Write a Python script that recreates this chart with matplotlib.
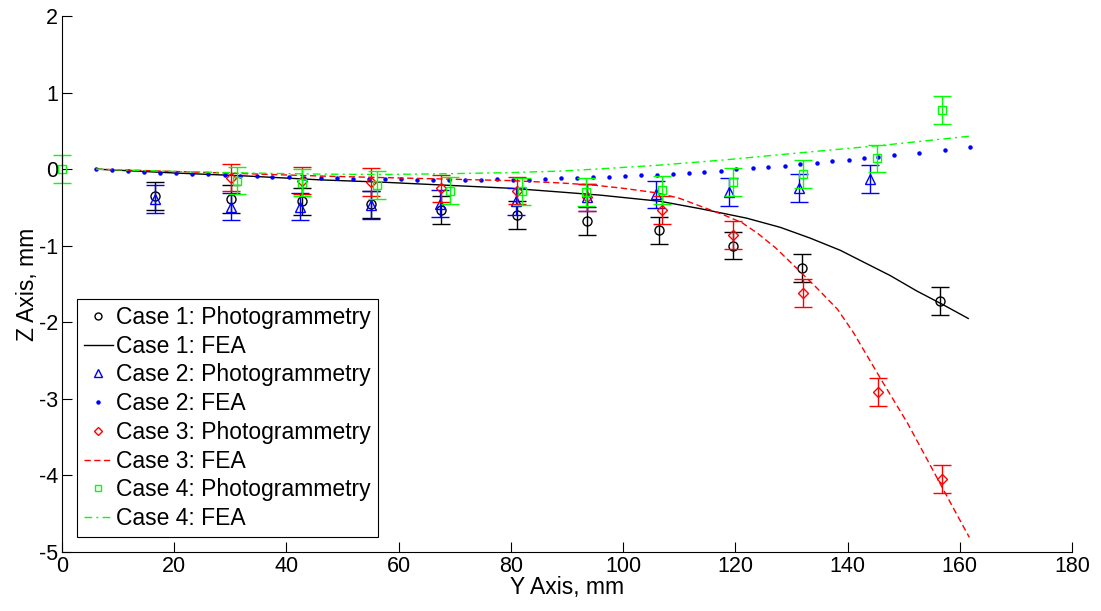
import matplotlib
matplotlib.use("Agg")
import matplotlib.pyplot as plt
from matplotlib.lines import Line2D

plt.rcParams['font.family'] = ['Liberation Sans', 'DejaVu Sans']
plt.rcParams['axes.unicode_minus'] = False

# Photogrammetry measurements (x, z, error)
c1_x = [16.6, 30.2, 42.8, 55.1, 67.5, 81.0, 93.5, 106.4, 119.5, 131.8, 156.4]
c1_z = [-0.35, -0.39, -0.42, -0.46, -0.53, -0.60, -0.68, -0.80, -1.00, -1.29, -1.72]
c1_e = [0.18] * 11

c2_x = [16.6, 30.2, 42.4, 55.0, 67.3, 80.9, 93.5, 105.8, 118.9, 131.4, 144.0]
c2_z = [-0.39, -0.49, -0.49, -0.47, -0.45, -0.42, -0.37, -0.33, -0.30, -0.245, -0.13]
c2_e = [0.18] * 11

c3_x = [30.2, 42.8, 55.1, 67.6, 81.0, 93.5, 106.9, 119.5, 132.0, 145.4, 156.9]
c3_z = [-0.11, -0.15, -0.17, -0.25, -0.28, -0.37, -0.53, -0.86, -1.62, -2.91, -4.05]
c3_e = [0.18] * 11

c4_x = [0.0, 31.2, 42.8, 56.2, 69.1, 81.9, 93.3, 107.0, 119.6, 132.0, 145.2, 156.8]
c4_z = [0.0, -0.15, -0.175, -0.205, -0.28, -0.29, -0.30, -0.27, -0.17, -0.065, 0.14, 0.77]
c4_e = [0.18] * 12

# FEA curves
f1_x = [6.1, 20, 33, 46, 57, 68.5, 80, 89, 96, 106.6, 114, 122, 128, 133.3,
        138.7, 142.2, 147.6, 152.3, 157, 161.5]
f1_z = [0, -0.05, -0.09, -0.14, -0.17, -0.21, -0.25, -0.30, -0.34, -0.42,
        -0.52, -0.64, -0.76, -0.90, -1.06, -1.19, -1.39, -1.59, -1.77, -1.95]

f2_x = [6.1, 9.0, 11.8, 14.7, 17.5, 20.4, 23.2, 26.1, 29.0, 31.8, 34.7, 37.5,
        40.4, 43.2, 46.1, 49.0, 51.8, 54.7, 57.5, 60.4, 63.2, 66.1, 68.9, 71.8,
        74.6, 77.5, 80.3, 83.2, 86.0, 88.9, 91.7, 94.6, 97.4, 100.3, 103.1,
        106.0, 108.8, 111.7, 114.5, 117.4, 120.2, 123.1, 125.9, 128.8, 131.6,
        134.5, 137.3, 140.2, 143.0, 145.5, 148.3, 152.8, 157.3, 161.8]
f2_z = [0.0, -0.013, -0.022, -0.031, -0.044, -0.048, -0.057, -0.065, -0.074,
        -0.085, -0.096, -0.100, -0.104, -0.112, -0.117, -0.117, -0.125, -0.125,
        -0.130, -0.135, -0.140, -0.143, -0.147, -0.147, -0.140, -0.135, -0.140,
        -0.138, -0.130, -0.120, -0.120, -0.108, -0.100, -0.087, -0.083, -0.070,
        -0.057, -0.048, -0.040, -0.022, 0.0, 0.009, 0.026, 0.043, 0.061, 0.078,
        0.100, 0.120, 0.139, 0.160, 0.182, 0.217, 0.256, 0.290]

f3_x = [6.1, 20, 33, 46, 57, 68.6, 80, 88.8, 95, 100, 106, 110, 114, 118,
        121.2, 124, 127.2, 131, 134.5, 138.2, 141, 146, 150.7, 154.9, 158.5, 161.7]
f3_z = [0, -0.03, -0.06, -0.09, -0.11, -0.13, -0.15, -0.18, -0.21, -0.25,
        -0.31, -0.38, -0.49, -0.60, -0.70, -0.84, -1.03, -1.30, -1.55, -1.83,
        -2.13, -2.75, -3.32, -3.89, -4.38, -4.81]

f4_x = [6.1, 20, 33, 46, 57, 68.6, 80, 88.8, 95, 106, 118, 131, 146, 161.7]
f4_z = [0, -0.03, -0.05, -0.065, -0.07, -0.06, -0.045, -0.025, 0.0, 0.05,
        0.12, 0.21, 0.31, 0.43]

labels = ['Case 1: Photogrammetry', 'Case 1: FEA',
          'Case 2: Photogrammetry', 'Case 2: FEA',
          'Case 3: Photogrammetry', 'Case 3: FEA',
          'Case 4: Photogrammetry', 'Case 4: FEA']

black, blue, red, green = '#000000', '#0000ff', '#ff0000', '#00ff00'

fig = plt.figure(figsize=(11.01, 6.11), dpi=100)
ax = fig.add_axes([0.0563, 0.0966, 0.9174, 0.8772])

eb = dict(fmt='none', capsize=6.5, elinewidth=1.0, capthick=1.0, clip_on=False)
mk = dict(linestyle='none', mfc='none', mew=1.0)

ax.errorbar(c1_x, c1_z, yerr=c1_e, ecolor=black, **eb)
ax.plot(c1_x, c1_z, marker='o', ms=6.5, mec=black, **mk)
ax.plot(f1_x, f1_z, color=black, lw=1.0)

ax.errorbar(c2_x, c2_z, yerr=c2_e, ecolor=blue, **eb)
ax.plot(c2_x, c2_z, marker='^', ms=7, mec=blue, **mk)
ax.plot(f2_x, f2_z, linestyle='none', marker='o', ms=2.2, color=blue, mec=blue)

ax.errorbar(c3_x, c3_z, yerr=c3_e, ecolor=red, **eb)
ax.plot(c3_x, c3_z, marker='D', ms=5.5, mec=red, **mk)
ax.plot(f3_x, f3_z, color=red, lw=1.0, dashes=(4.5, 2.5))

ax.errorbar(c4_x, c4_z, yerr=c4_e, ecolor=green, **eb)
ax.plot(c4_x, c4_z, marker='s', ms=6, mec=green, clip_on=False, **mk)
ax.plot(f4_x, f4_z, color=green, lw=1.0, dashes=(5.5, 3, 1.5, 3))

ax.set_xlim(0, 180)
ax.set_ylim(-5, 2)
ax.set_xticks(range(0, 181, 20))
ax.set_yticks(range(-5, 3))
for s in ['top', 'right']:
    ax.spines[s].set_visible(False)
for s in ['left', 'bottom']:
    ax.spines[s].set_linewidth(0.8)
ax.tick_params(direction='in', length=7, width=0.8, labelsize=15.5, pad=3)
ax.set_xlabel('Y Axis, mm', fontsize=16.5, labelpad=-1)
ax.set_ylabel('Z Axis, mm', fontsize=16.5, labelpad=0)

handles = [
    Line2D([], [], marker='o', ms=5, mec=black, **mk),
    Line2D([], [], color=black, lw=1.0),
    Line2D([], [], marker='^', ms=5.5, mec=blue, **mk),
    Line2D([], [], linestyle='none', marker='o', ms=2.2, color=blue),
    Line2D([], [], marker='D', ms=4.5, mec=red, **mk),
    Line2D([], [], color=red, lw=1.0, dashes=(4.5, 2.5)),
    Line2D([], [], marker='s', ms=5, mec=green, **mk),
    Line2D([], [], color=green, lw=1.0, dashes=(5.5, 3, 1.5, 3)),
]
leg = ax.legend(handles, labels, loc='lower left', bbox_to_anchor=(0.0149, 0.028),
                borderaxespad=0, fontsize=16.5, handlelength=1.25,
                handletextpad=0.15, labelspacing=0.25, borderpad=0.3,
                fancybox=False, framealpha=1, edgecolor='black')
leg.get_frame().set_linewidth(0.8)

fig.savefig('out.png', dpi=100)
